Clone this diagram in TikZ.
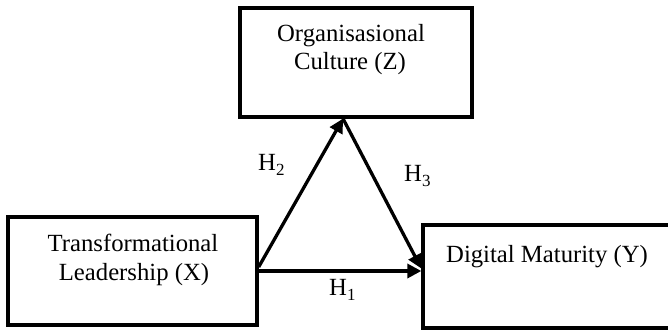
\documentclass[tikz,border=0pt]{standalone}
\usepackage{fontspec}
\setmainfont{Liberation Serif}
\usetikzlibrary{arrows.meta,calc}
\newcommand{\hsub}[1]{\raisebox{-5pt}{\fontsize{17}{17}\selectfont #1}}
\begin{document}
\begin{tikzpicture}[x=1pt,y=-1pt,
  box/.style={draw=black,line width=3.3pt,minimum width=#1,inner sep=0pt},
  txt/.style={anchor=base,inner sep=0pt,font=\fontsize{24.7}{28}\selectfont},
  lbl/.style={anchor=base west,inner sep=0pt,font=\fontsize{24.7}{28}\selectfont},
  arr/.style={line width=3.3pt,-{Triangle[length=14pt,width=14pt]}}]
\useasboundingbox (0,0) rectangle (668,331);
\fill[white] (0,0) rectangle (668,331);
% boxes
\node[box=232pt,minimum height=109pt] (Z) at (356,62.5) {};
\node[box=249pt,minimum height=108pt] (X) at (132.5,271) {};
\node[box=248pt,minimum height=103pt] (Y) at (547,276.5) {};
% texts
\node[txt] (z1) at (351,42) {Organisasional};
\node[txt] (z2) at (350,70) {Culture (Z)};
\node[txt] (x1) at (133,251) {Transformational};
\node[txt] (x2) at (134,280) {Leadership (X)};
\node[txt] (y1) at (547,262) {Digital Maturity (Y)};
% connectors
\coordinate (apex) at ([xshift=-13pt]Z.south);
\draw[arr] ([yshift=4pt]X.east) -- (apex);
\draw[arr] (apex) -- ([yshift=8pt]Y.west);
\draw[arr] (X.east) -- (X.east -| Y.west);
% labels
\node[lbl] (h2) at (258,171) {H\hsub{2}};
\node[lbl] (h3) at (404,181) {H\hsub{3}};
\node[lbl] (h1) at (329,295) {H\hsub{1}};
\end{tikzpicture}
\end{document}
